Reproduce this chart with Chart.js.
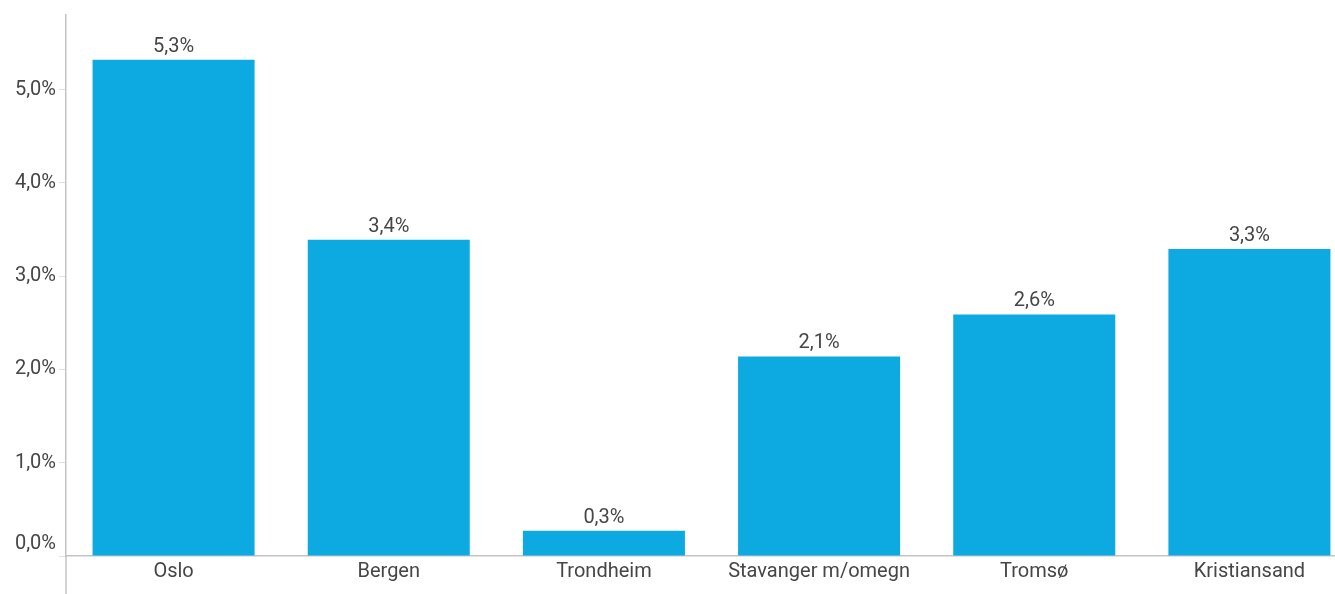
<!DOCTYPE html>
<html>
<head>
<meta charset="utf-8">
<script src="https://cdn.jsdelivr.net/npm/chart.js@4"></script>
<style>
  html, body { margin: 0; padding: 0; background: #fff; overflow: hidden; }
  #wrap { width: 1357px; height: 594px; position: relative; }
</style>
</head>
<body>
<div id="wrap"><canvas id="c"></canvas></div>
<script>
const categories = ["Oslo", "Bergen", "Trondheim", "Stavanger m/omegn", "Tromsø", "Kristiansand"];
const values = [5.32, 3.39, 0.27, 2.14, 2.59, 3.29];
const yTicks = [0, 1, 2, 3, 4, 5];

const fmt = v => v.toFixed(1).replace('.', ',') + '%';
const FONT = 'Roboto, "Open Sans", sans-serif';
const TEXT = '#464646';
const FS = 20;

const valueLabels = {
  id: 'valueLabels',
  afterDatasetsDraw(chart) {
    const ctx = chart.ctx;
    const meta = chart.getDatasetMeta(0);
    ctx.save();
    ctx.font = FS + 'px ' + FONT;
    ctx.fillStyle = TEXT;
    ctx.textAlign = 'center';
    ctx.textBaseline = 'bottom';
    meta.data.forEach((bar, i) => {
      ctx.fillText(fmt(chart.data.datasets[0].data[i]), bar.x, bar.y - 3);
    });
    ctx.restore();
  }
};

const axisExtend = {
  id: 'axisExtend',
  afterDraw(chart) {
    const ctx = chart.ctx;
    const x = chart.chartArea.left;
    ctx.save();
    ctx.strokeStyle = '#c4c4c4';
    ctx.lineWidth = 1.5;
    ctx.beginPath();
    ctx.moveTo(x, chart.chartArea.bottom);
    ctx.lineTo(x, chart.height);
    ctx.stroke();
    ctx.restore();
  }
};

new Chart(document.getElementById('c'), {
  type: 'bar',
  data: {
    labels: categories,
    datasets: [{
      data: values,
      backgroundColor: '#0DAAE1',
      borderWidth: 0,
      barPercentage: 1,
      categoryPercentage: 0.753
    }]
  },
  options: {
    responsive: true,
    maintainAspectRatio: false,
    animation: false,
    layout: { padding: { top: 14, right: 0, left: 0, bottom: 0 } },
    plugins: { legend: { display: false }, tooltip: { enabled: false } },
    scales: {
      x: {
        grid: { display: false, drawTicks: false },
        border: { display: true, color: '#c4c4c4', width: 1.5 },
        ticks: { color: TEXT, font: { family: FONT, size: FS }, padding: 4, maxRotation: 0 },
        afterFit: s => { s.height = 38; }
      },
      y: {
        min: 0,
        max: 5.8,
        afterBuildTicks: s => { s.ticks = yTicks.map(v => ({ value: v })); },
        grid: { drawOnChartArea: false, drawTicks: true, tickLength: 7, color: '#e2e2e2' },
        border: { display: true, color: '#c4c4c4', width: 1.5 },
        ticks: {
          color: TEXT,
          font: { family: FONT, size: FS },
          padding: 3,
          callback: v => v === 0 ? [fmt(v), ''] : fmt(v)
        },
        afterFit: s => { s.width = 66; }
      }
    }
  },
  plugins: [valueLabels, axisExtend]
});
</script>
</body>
</html>
